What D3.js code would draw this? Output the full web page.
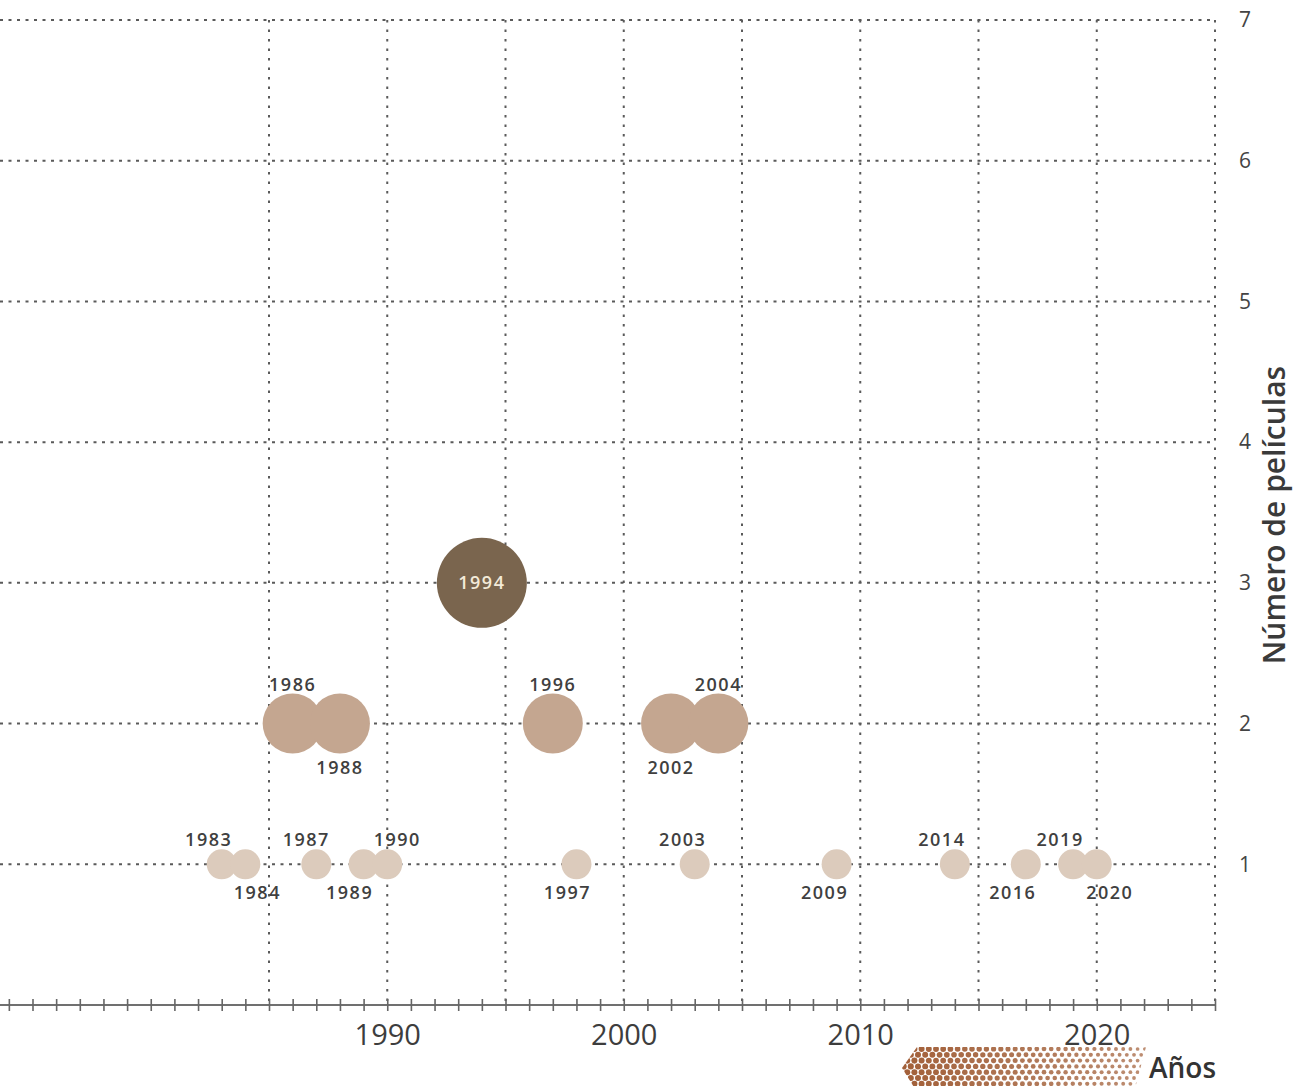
<!DOCTYPE html>
<html>
<head>
<meta charset="utf-8">
<script src="https://cdn.jsdelivr.net/npm/d3@7"></script>
<style>
  html, body { margin: 0; padding: 0; background: #fff; }
  svg { display: block; font-family: "Open Sans", sans-serif; }
</style>
</head>
<body>
<div id="chart"></div>
<script>
// data
var yearPos = [1983, 1984, 1986, 1987, 1988, 1989, 1990, 1994, 1997, 1998, 2002, 2003, 2004, 2009, 2014, 2017, 2019, 2020];
var yearLabels = ['1983', '1984', '1986', '1987', '1988', '1989', '1990', '1994', '1996', '1997', '2002', '2003', '2004', '2009', '2014', '2016', '2019', '2020'];
var filmCount = [1, 1, 2, 1, 2, 1, 1, 3, 2, 1, 2, 1, 2, 1, 1, 1, 1, 1];
var yTicks = [1, 2, 3, 4, 5, 6, 7];
var xLabelYears = [1990, 2000, 2010, 2020];

// label placement (layout only): side and horizontal shift
var labelSide = ['top', 'bottom', 'top', 'top', 'bottom', 'bottom', 'top', 'in', 'top', 'bottom', 'bottom', 'top', 'top', 'bottom', 'top', 'bottom', 'top', 'bottom'];
var labelShift = [-13, 12, 0, -10, 0, -14, 10, 0, 0, -9, 0, -12, 0, -12, -13, -13, -13, 13];

var W = 1297, H = 1086;
var svg = d3.select('#chart').append('svg').attr('width', W).attr('height', H);

var x = d3.scaleLinear().domain([1985, 2025]).range([269, 1215]);
var y = d3.scaleLinear().domain([0, 7]).range([1005, 20]);
var r = d3.scaleLinear().domain([0, 3]).range([0, 45]);
var fill = d3.scaleOrdinal().domain([1, 2, 3]).range(['#dccbbc', '#c4a690', '#7a654e']);

var gridColor = '#5a5a5a';

/* ---------- grid ---------- */
svg.append('g').selectAll('line.h')
  .data(yTicks)
  .enter().append('line')
  .attr('x1', 0).attr('x2', x(2025))
  .attr('y1', function(d){ return y(d); })
  .attr('y2', function(d){ return y(d); })
  .style('stroke', gridColor)
  .style('stroke-width', 2)
  .style('stroke-dasharray', '3,5.5');

svg.append('g').selectAll('line.v')
  .data(d3.range(1985, 2026, 5))
  .enter().append('line')
  .attr('x1', function(d){ return x(d); })
  .attr('x2', function(d){ return x(d); })
  .attr('y1', y(7)).attr('y2', y(0))
  .style('stroke', gridColor)
  .style('stroke-width', 2)
  .style('stroke-dasharray', '2.5,7');

/* ---------- x axis ---------- */
var xAxis = d3.axisBottom(x)
  .tickValues(d3.range(1974, 2026))
  .tickSize(6)
  .tickPadding(0)
  .tickFormat(function(d){ return xLabelYears.indexOf(d) >= 0 ? d : ''; });

var gx = svg.append('g').attr('transform', 'translate(0,' + y(0) + ')').call(xAxis);
gx.select('.domain').remove();
gx.insert('line', ':first-child')
  .attr('x1', 0).attr('x2', x(2025))
  .style('stroke', '#707070').style('stroke-width', 1.8);
gx.selectAll('.tick line')
  .attr('y1', -6).attr('y2', 6)
  .style('stroke', '#666').style('stroke-width', 1.6);
gx.selectAll('.tick text')
  .attr('y', 40).attr('dy', 0)
  .style('font-family', '"Open Sans", sans-serif')
  .style('font-size', '29px')
  .style('fill', '#3d3d3d');

/* ---------- y axis (right) ---------- */
var yAxis = d3.axisRight(y).tickValues(yTicks).tickSize(0).tickPadding(24).tickFormat(d3.format('d'));
var gy = svg.append('g').attr('transform', 'translate(' + x(2025) + ',0)').call(yAxis);
gy.select('.domain').remove();
gy.selectAll('.tick text')
  .style('font-family', '"Open Sans", sans-serif')
  .style('font-size', '21px')
  .style('fill', '#444');

svg.append('text')
  .attr('transform', 'translate(1285,' + 515 + ') rotate(-90)')
  .attr('text-anchor', 'middle')
  .style('font-size', '30px')
  .style('font-weight', 600)
  .style('fill', '#3a3a3a')
  .text('Número de películas');

/* ---------- Años arrow (halftone) ---------- */
var arrow = svg.append('g');
svg.append('clipPath').attr('id', 'arrowClip')
  .append('path')
  .attr('d', 'M902,1068 L917,1047 L1146,1047 L1134,1092 L917,1092 Z');
var dots = [];
for (var row = 0; row < 8; row++) {
  var cy = 1049 + row * 5.8;
  var off = (row % 2) ? 3.6 : 0;
  for (var cx = 900 + off; cx < 1150; cx += 7.2) {
    dots.push([cx, cy]);
  }
}
arrow.attr('clip-path', 'url(#arrowClip)')
  .selectAll('circle')
  .data(dots)
  .enter().append('circle')
  .attr('cx', function(d){ return d[0]; })
  .attr('cy', function(d){ return d[1]; })
  .attr('r', function(d){ return 3.1 - (d[0] - 900) / 250 * 1.3; })
  .style('fill', '#a25f38')
  .style('opacity', function(d){ return 1 - (d[0] - 900) / 250 * 0.3; });

svg.append('text')
  .attr('x', 1149).attr('y', 1078)
  .style('font-size', '28px')
  .style('font-weight', 600)
  .style('fill', '#333')
  .text('Años');

/* ---------- bubbles ---------- */
var data = yearPos.map(function(v, i){
  return { x: v, label: yearLabels[i], n: filmCount[i], side: labelSide[i], dx: labelShift[i] };
});

svg.append('g').selectAll('circle')
  .data(data)
  .enter().append('circle')
  .attr('cx', function(d){ return x(d.x); })
  .attr('cy', function(d){ return y(d.n); })
  .attr('r', function(d){ return r(d.n); })
  .style('fill', function(d){ return fill(d.n); });

svg.append('g').selectAll('text')
  .data(data)
  .enter().append('text')
  .attr('x', function(d){ return x(d.x) + d.dx; })
  .attr('y', function(d){
    var cy = y(d.n);
    if (d.side === 'top') return cy - r(d.n) - 3;
    if (d.side === 'bottom') return cy + r(d.n) + 20;
    return cy + 6;
  })
  .attr('text-anchor', 'middle')
  .style('font-size', '18px')
  .style('font-weight', 600)
  .style('letter-spacing', '1.5px')
  .style('fill', function(d){ return d.side === 'in' ? '#f3ead8' : '#404040'; })
  .text(function(d){ return d.label; });
</script>
</body>
</html>
